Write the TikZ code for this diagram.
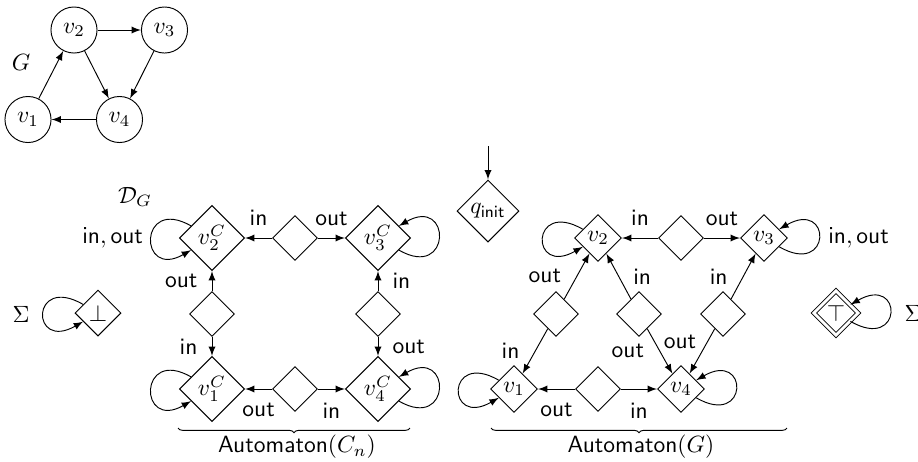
\documentclass[tikz,border=0pt]{standalone}
\usetikzlibrary{shapes.geometric,decorations.pathreplacing}
\begin{document}
\begin{tikzpicture}[x=0.4255pt,y=-0.4255pt,>=latex,
  vtx/.style={circle,draw,inner sep=0pt,minimum size=19.6pt},
  gate/.style={diamond,draw,inner sep=0pt,minimum size=19.1pt},
  cstate/.style={diamond,draw,inner sep=0pt,minimum size=27.7pt},
  gstate/.style={diamond,draw,inner sep=0pt,minimum size=20pt},
  sink/.style={diamond,draw,inner sep=0pt,minimum size=19.6pt},
  lbl/.style={font=\sffamily,inner sep=0pt},
  brc/.style={decorate,decoration={brace,amplitude=2pt}},
]
\useasboundingbox (0,0) rectangle (918,461);

% the graph G
\node[vtx] (g1) at (28,119.5) {$v_1$};
\node[vtx] (g2) at (74,30) {$v_2$};
\node[vtx] (g3) at (164.5,30) {$v_3$};
\node[vtx] (g4) at (119.5,119.5) {$v_4$};
\node (gname) at (21,62) {$G$};
\draw[->] (g1) -- (g2);
\draw[->] (g2) -- (g3);
\draw[->] (g2) -- (g4);
\draw[->] (g3) -- (g4);
\draw[->] (g4) -- (g1);

\node (dname) at (135,197) {$\mathcal{D}_G$};

% rejecting and accepting sinks
\node[sink] (bot) at (98,313) {$\bot$};
\node (sigl) at (21,314) {$\Sigma$};
\draw[->] (bot.150) .. controls +(150:26pt) and +(210:26pt) .. (bot.210);

\node[sink,double,double distance=1.2pt,minimum size=19pt] (top) at (836,313) {$\top$};
\node (sigr) at (913,313) {$\Sigma$};
\draw[->] (top.330) .. controls +(-30:26pt) and +(30:26pt) .. (top.30);

% initial state
\node[diamond,draw,inner sep=0pt,minimum size=26.4pt] (qinit) at (488,211) {$q_{\mathsf{init}}$};
\coordinate (qin) at (488,146);
\draw[->] (qin) -- (qinit);

% Automaton(C_n)
\node[cstate] (c2) at (212,238) {$v_2^C$};
\node[gate]   (tcm) at (295,238) {};
\node[cstate] (c3) at (378,238) {$v_3^C$};
\node[gate]   (lcm) at (212,314) {};
\node[gate]   (rcm) at (378,314) {};
\node[cstate] (c1) at (212,389) {$v_1^C$};
\node[gate]   (bcm) at (295,389) {};
\node[cstate] (c4) at (378,389) {$v_4^C$};

\draw[->] (tcm) -- node[lbl,above=5pt]{in} (c2);
\draw[->] (tcm) -- node[lbl,above=5pt]{out} (c3);
\draw[->] (lcm) -- node[lbl,left=6pt]{out} (c2);
\draw[->] (lcm) -- node[lbl,left=6pt]{in} (c1);
\draw[->] (rcm) -- node[lbl,right=6pt]{in} (c3);
\draw[->] (rcm) -- node[lbl,right=6pt]{out} (c4);
\draw[->] (bcm) -- node[lbl,below=6pt]{out} (c1);
\draw[->] (bcm) -- node[lbl,below=6pt]{in} (c4);

\draw[->] (c2.150) .. controls +(150:26pt) and +(210:26pt) .. node[lbl,pos=0.5,left=3.4pt]{$\mathsf{in},\mathsf{out}$} (c2.210);
\draw[->] (c1.150) .. controls +(150:26pt) and +(210:26pt) .. (c1.210);
\draw[->] (c3.330) .. controls +(-30:26pt) and +(30:26pt) .. (c3.30);
\draw[->] (c4.330) .. controls +(-30:26pt) and +(30:26pt) .. (c4.30);

\coordinate (cbl) at (178,428);
\coordinate (cbr) at (410,428);
\draw[brc] (cbr) -- (cbl);
\node (cname) at (297,447) {\textsf{Automaton}$(C_n)$};

% Automaton(G)
\node[gstate] (r2) at (598,238) {$v_2$};
\node[gate]   (rt) at (681,238) {};
\node[gstate] (r3) at (764,238) {$v_3$};
\node[gate]   (m12) at (556,314) {};
\node[gate]   (m24) at (639,314) {};
\node[gate]   (m34) at (723,314) {};
\node[gstate] (r1) at (514,389) {$v_1$};
\node[gate]   (rb) at (598,389) {};
\node[gstate] (r4) at (681,389) {$v_4$};

\draw[->] (rt) -- node[lbl,above=5pt]{in} (r2);
\draw[->] (rt) -- node[lbl,above=5pt]{out} (r3);
\draw[->] (m12) -- node[lbl,left=6.5pt]{out} (r2);
\draw[->] (m12) -- node[lbl,left=6.5pt]{in} (r1);
\draw[->] (m24) -- node[lbl,right=6pt]{in} (r2);
\draw[->] (m24) -- node[lbl,left=6.5pt]{out} (r4);
\draw[->] (m34) -- node[lbl,left=6.5pt]{in} (r3);
\draw[->] (m34) -- node[lbl,pos=0.3,left=4.5pt]{out} (r4);
\draw[->] (rb) -- node[lbl,below=6pt]{out} (r1);
\draw[->] (rb) -- node[lbl,below=6pt]{in} (r4);

\draw[->] (r2.150) .. controls +(150:26pt) and +(210:26pt) .. (r2.210);
\draw[->] (r1.150) .. controls +(150:26pt) and +(210:26pt) .. (r1.210);
\draw[->] (r3.330) .. controls +(-30:26pt) and +(30:26pt) .. node[lbl,pos=0.5,right=3.8pt]{$\mathsf{in},\mathsf{out}$} (r3.30);
\draw[->] (r4.330) .. controls +(-30:26pt) and +(30:26pt) .. (r4.30);

\coordinate (gbl) at (491,428);
\coordinate (gbr) at (787,428);
\draw[brc] (gbr) -- (gbl);
\node (gname2) at (641,447) {\textsf{Automaton}$(G)$};
\end{tikzpicture}
\end{document}
